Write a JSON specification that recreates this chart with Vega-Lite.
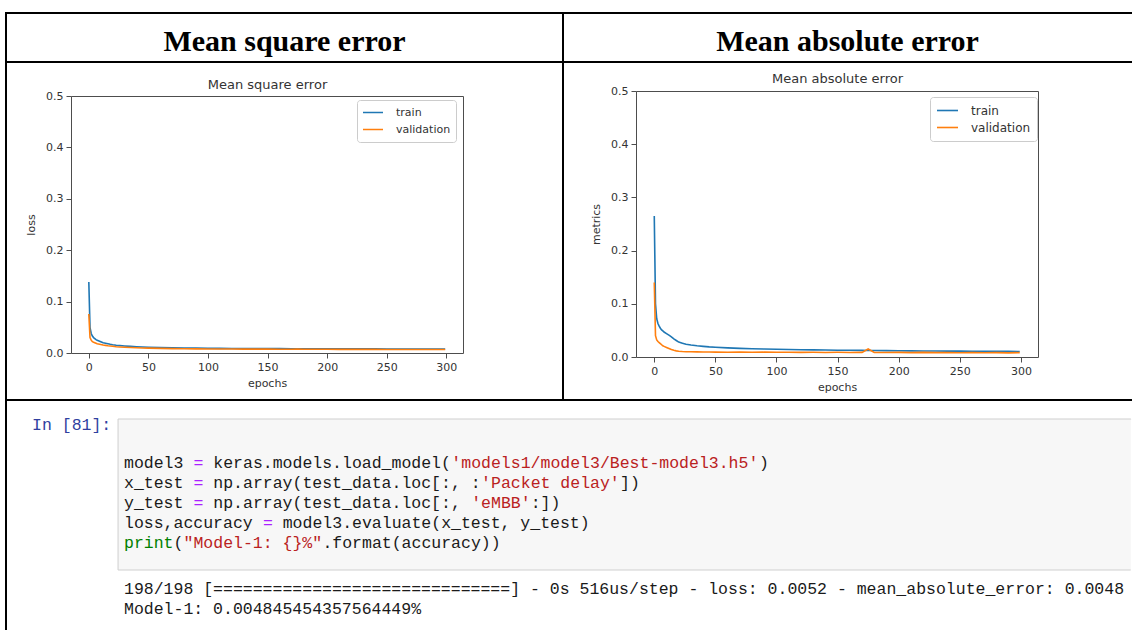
{
  "$schema": "https://vega.github.io/schema/vega-lite/v6.json",
  "background": "white",
  "padding": {"left": 5, "top": 12, "right": 0, "bottom": 0},
  "columns": 2,
  "spacing": 0,
  "bounds": "flush",
  "resolve": {"scale": {"color": "independent"}, "legend": {"color": "independent"}},
  "config": {
    "view": {"stroke": null},
    "font": "DejaVu Sans",
    "axis": {
      "domainColor": "#4d4d4d", "domainWidth": 1, "tickColor": "#4d4d4d", "tickWidth": 1, "tickSize": 5,
      "labelColor": "#333333", "labelFont": "DejaVu Sans", "labelFontSize": 11, "labelPadding": 3,
      "titleColor": "#333333", "titleFont": "DejaVu Sans", "titleFontSize": 11, "titleFontWeight": "normal",
      "grid": false, "labelFlush": false, "labelOverlap": false
    },
    "legend": {
      "orient": "none", "title": null, "symbolType": "stroke", "symbolSize": 400, "symbolStrokeWidth": 1.6,
      "labelFont": "DejaVu Sans", "labelFontSize": 11, "labelColor": "#333333", "padding": 5,
      "strokeColor": "#cccccc", "fillColor": "white", "cornerRadius": 3, "clipHeight": 15, "rowPadding": 2, "labelOffset": 12
    }
  },
  "datasets": {
    "mse": [
      {"epoch":0,"series":"train","value":0.138},{"epoch":1,"series":"train","value":0.05},{"epoch":2,"series":"train","value":0.038},{"epoch":3,"series":"train","value":0.033},{"epoch":4,"series":"train","value":0.030},{"epoch":5,"series":"train","value":0.028},{"epoch":6,"series":"train","value":0.026},{"epoch":7,"series":"train","value":0.025},{"epoch":8,"series":"train","value":0.024},{"epoch":10,"series":"train","value":0.022},{"epoch":12,"series":"train","value":0.020},{"epoch":14,"series":"train","value":0.019},{"epoch":16,"series":"train","value":0.018},{"epoch":18,"series":"train","value":0.017},{"epoch":20,"series":"train","value":0.0162},{"epoch":23,"series":"train","value":0.0152},{"epoch":26,"series":"train","value":0.0145},{"epoch":30,"series":"train","value":0.0137},{"epoch":35,"series":"train","value":0.0128},{"epoch":40,"series":"train","value":0.0121},{"epoch":45,"series":"train","value":0.0116},{"epoch":50,"series":"train","value":0.0112},{"epoch":60,"series":"train","value":0.0105},{"epoch":70,"series":"train","value":0.0100},{"epoch":80,"series":"train","value":0.0097},{"epoch":90,"series":"train","value":0.0094},{"epoch":100,"series":"train","value":0.0092},{"epoch":110,"series":"train","value":0.0090},{"epoch":120,"series":"train","value":0.0089},{"epoch":130,"series":"train","value":0.0088},{"epoch":140,"series":"train","value":0.0087},{"epoch":150,"series":"train","value":0.0086},{"epoch":160,"series":"train","value":0.0085},{"epoch":170,"series":"train","value":0.0084},{"epoch":175,"series":"train","value":0.0084},{"epoch":180,"series":"train","value":0.0083},{"epoch":190,"series":"train","value":0.0083},{"epoch":200,"series":"train","value":0.0082},{"epoch":210,"series":"train","value":0.0081},{"epoch":220,"series":"train","value":0.0081},{"epoch":230,"series":"train","value":0.0080},{"epoch":240,"series":"train","value":0.0080},{"epoch":250,"series":"train","value":0.0079},{"epoch":260,"series":"train","value":0.0079},{"epoch":270,"series":"train","value":0.0078},{"epoch":280,"series":"train","value":0.0078},{"epoch":290,"series":"train","value":0.0078},{"epoch":299,"series":"train","value":0.0077},
      {"epoch":0,"series":"validation","value":0.076},{"epoch":1,"series":"validation","value":0.030},{"epoch":2,"series":"validation","value":0.025},{"epoch":3,"series":"validation","value":0.022},{"epoch":4,"series":"validation","value":0.021},{"epoch":5,"series":"validation","value":0.020},{"epoch":6,"series":"validation","value":0.019},{"epoch":7,"series":"validation","value":0.018},{"epoch":8,"series":"validation","value":0.0175},{"epoch":10,"series":"validation","value":0.0165},{"epoch":12,"series":"validation","value":0.0155},{"epoch":14,"series":"validation","value":0.0148},{"epoch":16,"series":"validation","value":0.014},{"epoch":18,"series":"validation","value":0.0135},{"epoch":20,"series":"validation","value":0.013},{"epoch":23,"series":"validation","value":0.0123},{"epoch":26,"series":"validation","value":0.0118},{"epoch":30,"series":"validation","value":0.0112},{"epoch":35,"series":"validation","value":0.0106},{"epoch":40,"series":"validation","value":0.0102},{"epoch":45,"series":"validation","value":0.0098},{"epoch":50,"series":"validation","value":0.0095},{"epoch":60,"series":"validation","value":0.0090},{"epoch":70,"series":"validation","value":0.0086},{"epoch":80,"series":"validation","value":0.0083},{"epoch":90,"series":"validation","value":0.0081},{"epoch":100,"series":"validation","value":0.0079},{"epoch":110,"series":"validation","value":0.0078},{"epoch":120,"series":"validation","value":0.0077},{"epoch":130,"series":"validation","value":0.0076},{"epoch":140,"series":"validation","value":0.0075},{"epoch":150,"series":"validation","value":0.0075},{"epoch":160,"series":"validation","value":0.0074},{"epoch":170,"series":"validation","value":0.0074},{"epoch":175,"series":"validation","value":0.0076},{"epoch":180,"series":"validation","value":0.0073},{"epoch":190,"series":"validation","value":0.0072},{"epoch":200,"series":"validation","value":0.0072},{"epoch":210,"series":"validation","value":0.0071},{"epoch":220,"series":"validation","value":0.0071},{"epoch":230,"series":"validation","value":0.0070},{"epoch":240,"series":"validation","value":0.0070},{"epoch":250,"series":"validation","value":0.0069},{"epoch":260,"series":"validation","value":0.0069},{"epoch":270,"series":"validation","value":0.0069},{"epoch":280,"series":"validation","value":0.0068},{"epoch":290,"series":"validation","value":0.0068},{"epoch":299,"series":"validation","value":0.0068}
    ],
    "mae": [
      {"epoch":0,"series":"train","value":0.265},{"epoch":1,"series":"train","value":0.10},{"epoch":2,"series":"train","value":0.072},{"epoch":3,"series":"train","value":0.063},{"epoch":4,"series":"train","value":0.058},{"epoch":5,"series":"train","value":0.054},{"epoch":6,"series":"train","value":0.051},{"epoch":7,"series":"train","value":0.049},{"epoch":8,"series":"train","value":0.047},{"epoch":10,"series":"train","value":0.044},{"epoch":12,"series":"train","value":0.041},{"epoch":14,"series":"train","value":0.038},{"epoch":16,"series":"train","value":0.034},{"epoch":18,"series":"train","value":0.031},{"epoch":20,"series":"train","value":0.028},{"epoch":23,"series":"train","value":0.026},{"epoch":26,"series":"train","value":0.024},{"epoch":30,"series":"train","value":0.0225},{"epoch":35,"series":"train","value":0.021},{"epoch":40,"series":"train","value":0.020},{"epoch":45,"series":"train","value":0.019},{"epoch":50,"series":"train","value":0.0183},{"epoch":60,"series":"train","value":0.0172},{"epoch":70,"series":"train","value":0.0163},{"epoch":80,"series":"train","value":0.0156},{"epoch":90,"series":"train","value":0.0150},{"epoch":100,"series":"train","value":0.0145},{"epoch":110,"series":"train","value":0.0140},{"epoch":120,"series":"train","value":0.0137},{"epoch":130,"series":"train","value":0.0134},{"epoch":140,"series":"train","value":0.0131},{"epoch":150,"series":"train","value":0.0128},{"epoch":160,"series":"train","value":0.0126},{"epoch":170,"series":"train","value":0.0124},{"epoch":175,"series":"train","value":0.0123},{"epoch":180,"series":"train","value":0.0122},{"epoch":190,"series":"train","value":0.0120},{"epoch":200,"series":"train","value":0.0118},{"epoch":210,"series":"train","value":0.0116},{"epoch":220,"series":"train","value":0.0114},{"epoch":230,"series":"train","value":0.0113},{"epoch":240,"series":"train","value":0.0111},{"epoch":250,"series":"train","value":0.0110},{"epoch":260,"series":"train","value":0.0108},{"epoch":270,"series":"train","value":0.0107},{"epoch":280,"series":"train","value":0.0106},{"epoch":290,"series":"train","value":0.0105},{"epoch":299,"series":"train","value":0.0104},
      {"epoch":0,"series":"validation","value":0.140},{"epoch":1,"series":"validation","value":0.040},{"epoch":2,"series":"validation","value":0.032},{"epoch":3,"series":"validation","value":0.029},{"epoch":4,"series":"validation","value":0.027},{"epoch":5,"series":"validation","value":0.025},{"epoch":6,"series":"validation","value":0.023},{"epoch":7,"series":"validation","value":0.021},{"epoch":8,"series":"validation","value":0.020},{"epoch":10,"series":"validation","value":0.018},{"epoch":12,"series":"validation","value":0.016},{"epoch":14,"series":"validation","value":0.014},{"epoch":16,"series":"validation","value":0.0125},{"epoch":18,"series":"validation","value":0.0115},{"epoch":20,"series":"validation","value":0.0108},{"epoch":23,"series":"validation","value":0.0102},{"epoch":26,"series":"validation","value":0.0100},{"epoch":30,"series":"validation","value":0.0098},{"epoch":35,"series":"validation","value":0.0096},{"epoch":40,"series":"validation","value":0.0095},{"epoch":45,"series":"validation","value":0.0093},{"epoch":50,"series":"validation","value":0.0092},{"epoch":60,"series":"validation","value":0.0090},{"epoch":70,"series":"validation","value":0.0093},{"epoch":80,"series":"validation","value":0.0089},{"epoch":90,"series":"validation","value":0.0091},{"epoch":100,"series":"validation","value":0.0088},{"epoch":110,"series":"validation","value":0.0090},{"epoch":120,"series":"validation","value":0.0087},{"epoch":130,"series":"validation","value":0.0089},{"epoch":140,"series":"validation","value":0.0086},{"epoch":150,"series":"validation","value":0.0088},{"epoch":160,"series":"validation","value":0.0085},{"epoch":170,"series":"validation","value":0.0087},{"epoch":175,"series":"validation","value":0.0150},{"epoch":180,"series":"validation","value":0.0086},{"epoch":190,"series":"validation","value":0.0084},{"epoch":200,"series":"validation","value":0.0087},{"epoch":210,"series":"validation","value":0.0083},{"epoch":220,"series":"validation","value":0.0086},{"epoch":230,"series":"validation","value":0.0082},{"epoch":240,"series":"validation","value":0.0085},{"epoch":250,"series":"validation","value":0.0080},{"epoch":260,"series":"validation","value":0.0084},{"epoch":270,"series":"validation","value":0.0079},{"epoch":280,"series":"validation","value":0.0083},{"epoch":290,"series":"validation","value":0.0078},{"epoch":299,"series":"validation","value":0.0082}
    ],
    "code": [
      {"line":0.1,"col":-9.27,"text":"In [81]:","kind":"prompt"},
      {"line":2,"col":0,"text":"model3","kind":"plain"},
      {"line":2,"col":7,"text":"=","kind":"op"},
      {"line":2,"col":9,"text":"keras.models.load_model(","kind":"plain"},
      {"line":2,"col":33,"text":"'models1/model3/Best-model3.h5'","kind":"str"},
      {"line":2,"col":64,"text":")","kind":"plain"},
      {"line":3,"col":0,"text":"x_test","kind":"plain"},
      {"line":3,"col":7,"text":"=","kind":"op"},
      {"line":3,"col":9,"text":"np.array(test_data.loc[:, :","kind":"plain"},
      {"line":3,"col":36,"text":"'Packet delay'","kind":"str"},
      {"line":3,"col":50,"text":"])","kind":"plain"},
      {"line":4,"col":0,"text":"y_test","kind":"plain"},
      {"line":4,"col":7,"text":"=","kind":"op"},
      {"line":4,"col":9,"text":"np.array(test_data.loc[:,","kind":"plain"},
      {"line":4,"col":35,"text":"'eMBB'","kind":"str"},
      {"line":4,"col":41,"text":":])","kind":"plain"},
      {"line":5,"col":0,"text":"loss,accuracy","kind":"plain"},
      {"line":5,"col":14,"text":"=","kind":"op"},
      {"line":5,"col":16,"text":"model3.evaluate(x_test, y_test)","kind":"plain"},
      {"line":6,"col":0,"text":"print","kind":"builtin"},
      {"line":6,"col":5,"text":"(","kind":"plain"},
      {"line":6,"col":6,"text":"\"Model-1: {}%\"","kind":"str"},
      {"line":6,"col":20,"text":".format(accuracy))","kind":"plain"}
    ],
    "output": [
      {"line":1,"col":0,"text":"198/198 [==============================] - 0s 516us/step - loss: 0.0052 - mean_absolute_error: 0.0048"},
      {"line":2,"col":0,"text":"Model-1: 0.004845454357564449%"}
    ]
  },
  "concat": [
    {
      "width": 557, "height": 49,
      "view": {"stroke": "black", "strokeWidth": 2},
      "data": {"values": [{"header": "Mean square error"}]},
      "mark": {"type": "text", "font": "Liberation Serif", "fontWeight": "bold", "fontSize": 30, "baseline": "alphabetic", "dy": 13, "color": "black"},
      "encoding": {"text": {"field": "header"}}
    },
    {
      "width": 569, "height": 49,
      "view": {"stroke": "black", "strokeWidth": 2, "strokeDash": [569, 49]},
      "data": {"values": [{"header": "Mean absolute error"}]},
      "mark": {"type": "text", "font": "Liberation Serif", "fontWeight": "bold", "fontSize": 30, "baseline": "alphabetic", "dy": 13, "color": "black"},
      "encoding": {"text": {"field": "header"}}
    },
    {
      "width": 557, "height": 338,
      "view": {"stroke": "black", "strokeWidth": 2},
      "data": {"name": "mse"},
      "layer": [
        {
          "mark": {"type": "line", "strokeWidth": 1.6},
          "encoding": {
            "x": {"field": "epoch", "type": "quantitative",
                  "scale": {"domain": [-14.95, 313.95], "range": [65, 457], "nice": false, "zero": false},
                  "axis": {"orient": "bottom", "offset": -47, "values": [0, 50, 100, 150, 200, 250, 300], "format": "d", "title": "epochs", "titlePadding": 5}},
            "y": {"field": "value", "type": "quantitative",
                  "scale": {"domain": [0, 0.5], "range": [291, 34], "nice": false, "zero": false},
                  "axis": {"orient": "left", "offset": -65, "values": [0, 0.1, 0.2, 0.3, 0.4, 0.5], "format": ".1f", "title": "loss", "titlePadding": 9}},
            "color": {"field": "series", "type": "nominal",
                      "scale": {"domain": ["train", "validation"], "range": ["#1f77b4", "#ff7f0e"]},
                      "legend": {"legendX": 351, "legendY": 38}}
          }
        },
        {
          "mark": {"type": "line", "opacity": 0},
          "encoding": {
            "x": {"field": "epoch", "type": "quantitative",
                  "axis": {"orient": "top", "offset": -34, "labels": false, "ticks": false, "title": "Mean square error", "titleFontSize": 13, "titlePadding": 5}},
            "y": {"field": "value", "type": "quantitative",
                  "axis": {"orient": "right", "offset": -100, "labels": false, "ticks": false, "title": null}}
          }
        }
      ],
      "resolve": {"axis": {"x": "independent", "y": "independent"}}
    },
    {
      "width": 569, "height": 338,
      "view": {"stroke": "black", "strokeWidth": 2, "strokeDash": [569, 338]},
      "data": {"name": "mae"},
      "layer": [
        {
          "mark": {"type": "line", "strokeWidth": 1.6},
          "encoding": {
            "x": {"field": "epoch", "type": "quantitative",
                  "scale": {"domain": [-14.95, 313.95], "range": [73, 475], "nice": false, "zero": false},
                  "axis": {"orient": "bottom", "offset": -43, "values": [0, 50, 100, 150, 200, 250, 300], "format": "d", "title": "epochs", "titlePadding": 5}},
            "y": {"field": "value", "type": "quantitative",
                  "scale": {"domain": [0, 0.5], "range": [295, 29], "nice": false, "zero": false},
                  "axis": {"orient": "left", "offset": -73, "values": [0, 0.1, 0.2, 0.3, 0.4, 0.5], "format": ".1f", "title": "metrics", "titlePadding": 9}},
            "color": {"field": "series", "type": "nominal",
                      "scale": {"domain": ["train", "validation"], "range": ["#1f77b4", "#ff7f0e"]},
                      "legend": {"legendX": 367, "legendY": 35, "labelFontSize": 12, "padding": 6, "symbolSize": 441}}
          }
        },
        {
          "mark": {"type": "line", "opacity": 0},
          "encoding": {
            "x": {"field": "epoch", "type": "quantitative",
                  "axis": {"orient": "top", "offset": -29, "labels": false, "ticks": false, "title": "Mean absolute error", "titleFontSize": 13, "titlePadding": 6}},
            "y": {"field": "value", "type": "quantitative",
                  "axis": {"orient": "right", "offset": -94, "labels": false, "ticks": false, "title": null}}
          }
        }
      ],
      "resolve": {"axis": {"x": "independent", "y": "independent"}}
    },
    {
      "width": 557, "height": 230,
      "view": {"stroke": "black", "strokeWidth": 2, "strokeDash": [557, 787, 230]},
      "layer": [
        {
          "data": {"values": [{"cell": "In [81]"}]},
          "mark": {"type": "rect", "fill": "#f7f7f7", "stroke": "#cfcfcf", "strokeWidth": 1, "strokeDash": [1013, 151, 1164]},
          "encoding": {
            "x": {"datum": -0.6, "type": "quantitative", "scale": {"domain": [0, 100], "range": [118, 1110], "nice": false, "zero": false}, "axis": null},
            "x2": {"datum": 101.5},
            "y": {"datum": -0.2, "type": "quantitative", "scale": {"domain": [1, 6], "range": [43, 143], "nice": false, "zero": false}, "axis": null},
            "y2": {"datum": 7.35}
          }
        },
        {
          "data": {"name": "code"},
          "mark": {"type": "text", "font": "Liberation Mono", "fontSize": 16.5, "align": "left", "baseline": "middle"},
          "encoding": {
            "x": {"field": "col", "type": "quantitative", "axis": null},
            "y": {"field": "line", "type": "quantitative", "scale": {"domain": [1, 6], "range": [43, 143], "nice": false, "zero": false}, "axis": null},
            "text": {"field": "text"},
            "color": {"field": "kind", "type": "nominal",
                      "scale": {"domain": ["plain", "op", "str", "builtin", "prompt"], "range": ["#1a1a1a", "#aa22ff", "#ba2121", "#008000", "#303f9f"]},
                      "legend": null}
          }
        },
        {
          "data": {"name": "output"},
          "mark": {"type": "text", "font": "Liberation Mono", "fontSize": 16.5, "align": "left", "baseline": "middle", "color": "#1a1a1a"},
          "encoding": {
            "x": {"field": "col", "type": "quantitative", "axis": null},
            "y": {"field": "line", "type": "quantitative", "scale": {"domain": [1, 2], "range": [189, 209], "nice": false, "zero": false}, "axis": null},
            "text": {"field": "text"}
          }
        }
      ],
      "resolve": {"scale": {"y": "independent"}}
    },
    {
      "width": 569, "height": 230,
      "data": {"values": [{"cell": "spacer"}]},
      "mark": {"type": "rule", "opacity": 0},
      "encoding": {}
    }
  ]
}
